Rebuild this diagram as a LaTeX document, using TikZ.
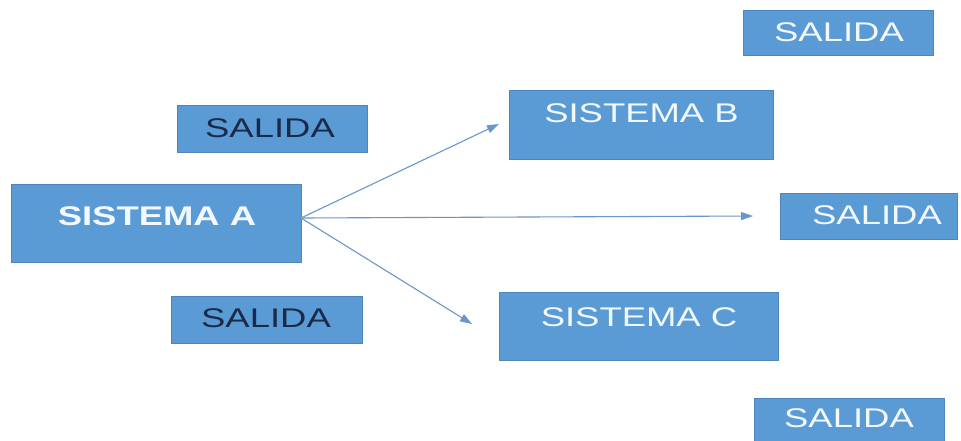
\documentclass[tikz,border=0pt]{standalone}
\usepackage{fontspec}
\setmainfont{Liberation Sans}
\usetikzlibrary{arrows.meta}
\definecolor{boxblue}{HTML}{5B9BD5}
\definecolor{boxedge}{HTML}{4F86C0}
\definecolor{arrowblue}{HTML}{6A97C9}
\definecolor{navy}{HTML}{1B2A48}
\definecolor{whitetext}{HTML}{F2F8FF}
\tikzset{
  bluebox/.style={draw=boxedge, line width=0.8pt, fill=boxblue, inner sep=0pt},
  lighttext/.style={text=whitetext, font=\fontsize{27}{27}\selectfont, inner sep=0pt},
  darktext/.style={text=navy, font=\fontsize{27}{27}\selectfont, inner sep=0pt},
  flow/.style={draw=arrowblue, line width=1.1pt, -{Triangle[length=12pt,width=8pt]}},
}
\newcommand{\wide}[1]{\scalebox{1.35}[1]{#1}}
\begin{document}
\begin{tikzpicture}[x=1pt,y=-1pt]
\useasboundingbox[fill=white] (0,0) rectangle (961,440);
% boxes
\node[bluebox, minimum width=290pt, minimum height=78pt] (a) at (156,223) {};
\node[bluebox, minimum width=190pt, minimum height=47pt] (s1) at (272,128.5) {};
\node[bluebox, minimum width=191pt, minimum height=47pt] (s2) at (266.5,319.5) {};
\node[bluebox, minimum width=264pt, minimum height=69pt] (b) at (641,124.5) {};
\node[bluebox, minimum width=279pt, minimum height=68pt] (c) at (638.5,326) {};
\node[bluebox, minimum width=190pt, minimum height=45pt] (s3) at (838,32.5) {};
\node[bluebox, minimum width=177pt, minimum height=46pt] (s4) at (868.5,216) {};
\node[bluebox, minimum width=190pt, minimum height=46pt] (s5) at (849,421) {};
% texts
\node[lighttext] (at) at (157,216) {\wide{\bfseries SISTEMA A}};
\node[darktext] (s1t) at (270,128) {\wide{SALIDA}};
\node[darktext] (s2t) at (266,318) {\wide{SALIDA}};
\node[lighttext] (bt) at (641.5,113) {\wide{SISTEMA B}};
\node[lighttext] (ct) at (639,317) {\wide{SISTEMA C}};
\node[lighttext] (s3t) at (839,32) {\wide{SALIDA}};
\node[lighttext] (s4t) at (877,215) {\wide{SALIDA}};
\node[lighttext] (s5t) at (849,418) {\wide{SALIDA}};
% arrows
\coordinate (src) at (301,218);
\coordinate (tb) at (499,124);
\coordinate (tm) at (753,216);
\coordinate (tc) at (472,324);
\draw[flow] (src) -- (tb);
\draw[flow] (src) -- (tm);
\draw[flow] (src) -- (tc);
\end{tikzpicture}
\end{document}
